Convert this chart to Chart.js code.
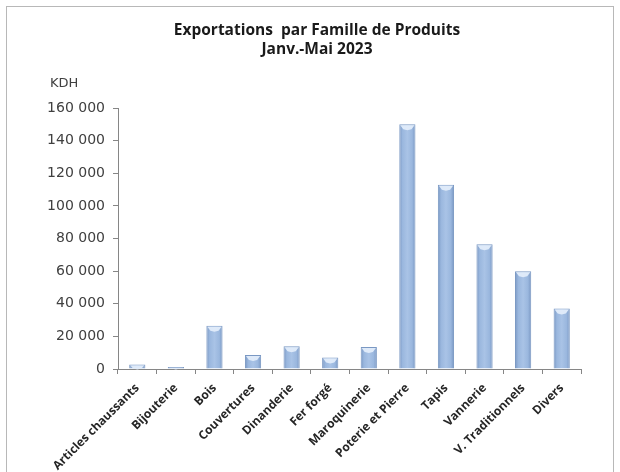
<!DOCTYPE html>
<html>
<head>
<meta charset="utf-8">
<script src="https://cdn.jsdelivr.net/npm/chart.js@4"></script>
<style>
  html, body { margin: 0; padding: 0; background: #fff; }
  #wrap { position: relative; width: 620px; height: 472px; overflow: hidden; }
  #frame { position: absolute; left: 6px; top: 6px; width: 606px; height: 480px; border: 1px solid #b8b8b8; }
  canvas { position: absolute; left: 0; top: 0; }
</style>
</head>
<body>
<div id="wrap">
  <div id="frame"></div>
  <canvas id="chart" width="620" height="472"></canvas>
</div>
<script>
const categories = [
  'Articles chaussants', 'Bijouterie', 'Bois', 'Couvertures', 'Dinanderie', 'Fer forgé',
  'Maroquinerie', 'Poterie et Pierre', 'Tapis', 'Vannerie', 'V. Traditionnels', 'Divers'
];
const exportValues = [2700, 1200, 26500, 8600, 14000, 7000, 13500, 150000, 113000, 76500, 60000, 37100];
const yTicks = [0, 20000, 40000, 60000, 80000, 100000, 120000, 140000, 160000];
const titleLines = ['Exportations  par Famille de Produits', 'Janv.-Mai 2023'];
const unitLabel = 'KDH';

function formatThousands(value) {
  return String(value).replace(/\B(?=(\d{3})+(?!\d))/g, ' ');
}

// horizontal gradient per bar, centred on the category pixel
function barFill(context) {
  const chart = context.chart;
  const xScale = chart.scales.x;
  if (!chart.chartArea || !xScale) return '#95b3d7';
  const cx = xScale.getPixelForValue(context.dataIndex);
  const half = (xScale.width / categories.length) * 0.42 / 2;
  const g = chart.ctx.createLinearGradient(cx - half, 0, cx + half, 0);
  g.addColorStop(0, '#7896c2');
  g.addColorStop(0.2, '#9ab7de');
  g.addColorStop(0.5, '#a9c3e6');
  g.addColorStop(0.8, '#9ab7de');
  g.addColorStop(1, '#7896c2');
  return g;
}

// light bevel at the top of each bar
const bevelPlugin = {
  id: 'bevel',
  afterDatasetsDraw(chart) {
    const { ctx } = chart;
    const meta = chart.getDatasetMeta(0);
    ctx.save();
    meta.data.forEach((bar) => {
      const h = Math.min(5, bar.base - bar.y);
      if (h <= 0) return;
      const left = bar.x - bar.width / 2 + 1;
      const right = bar.x + bar.width / 2 - 1;
      ctx.fillStyle = 'rgba(226, 236, 250, 0.95)';
      ctx.beginPath();
      ctx.moveTo(left, bar.y + 1);
      ctx.lineTo(right, bar.y + 1);
      ctx.lineTo(right - 3, bar.y + h);
      ctx.lineTo(bar.x, bar.y + h + 1);
      ctx.lineTo(left + 3, bar.y + h);
      ctx.closePath();
      ctx.fill();
    });
    ctx.restore();
  }
};

// title (centred a little right of the plot, as in the source) and unit label
const headerPlugin = {
  id: 'header',
  afterDraw(chart) {
    const { ctx, chartArea } = chart;
    ctx.save();
    ctx.fillStyle = '#1a1a1a';
    ctx.textAlign = 'center';
    ctx.textBaseline = 'middle';
    ctx.font = 'bold 15.5px "Open Sans"';
    titleLines.forEach((line, i) => {
      ctx.fillText(line, chart.width / 2 + 7, 31 + i * 19);
    });
    ctx.font = '13px "DejaVu Sans"';
    ctx.fillStyle = '#404040';
    ctx.textAlign = 'left';
    ctx.fillText(unitLabel, chartArea.left - 68, chartArea.top - 24);
    ctx.restore();
  }
};

const ctx = document.getElementById('chart').getContext('2d');

new Chart(ctx, {
  type: 'bar',
  data: {
    labels: categories,
    datasets: [{
      data: exportValues,
      backgroundColor: barFill,
      borderColor: '#7a98c3',
      borderWidth: 1,
      barPercentage: 0.42,
      categoryPercentage: 1
    }]
  },
  options: {
    responsive: false,
    animation: false,
    layout: { padding: { left: 0, right: 39, top: 108, bottom: 0 } },
    plugins: {
      legend: { display: false },
      tooltip: { enabled: false },
      title: { display: false }
    },
    scales: {
      x: {
        afterFit: (scale) => { scale.height = 103; },
        grid: {
          display: true,
          drawOnChartArea: false,
          offset: true,
          color: '#868686',
          tickLength: 5
        },
        border: { color: '#868686' },
        ticks: {
          color: '#262626',
          minRotation: 45,
          maxRotation: 45,
          autoSkip: false,
          padding: 7,
          font: { family: '"Open Sans"', size: 12, weight: 'bold' }
        }
      },
      y: {
        min: 0,
        max: 160000,
        afterFit: (scale) => { scale.width = 118; },
        afterBuildTicks: (scale) => { scale.ticks = yTicks.map((v) => ({ value: v })); },
        grid: {
          display: true,
          drawOnChartArea: false,
          color: '#868686',
          tickLength: 5
        },
        border: { color: '#868686' },
        ticks: {
          color: '#404040',
          padding: 8,
          font: { family: '"DejaVu Sans"', size: 14 },
          callback: (value) => formatThousands(value)
        }
      }
    }
  },
  plugins: [bevelPlugin, headerPlugin]
});
</script>
</body>
</html>
